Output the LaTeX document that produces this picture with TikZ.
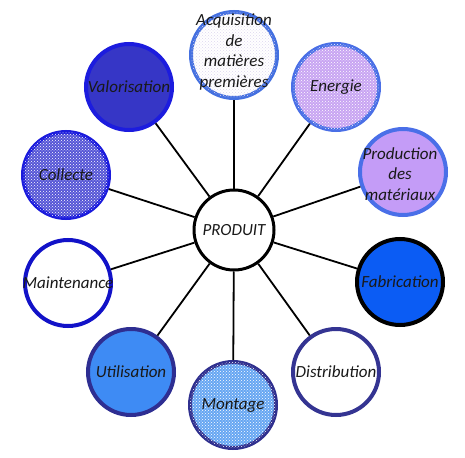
\documentclass[tikz,border=0pt]{standalone}
\usepackage{fontspec}
\setmainfont{Carlito}
\usetikzlibrary{patterns}
\definecolor{bAcq}{HTML}{4470E0}
\definecolor{fEne}{HTML}{C8A4F2}
\definecolor{bEne}{HTML}{4A6FE6}
\definecolor{fPro}{HTML}{C49CF7}
\definecolor{bPro}{HTML}{4A6FE8}
\definecolor{fFab}{HTML}{0B5CF4}
\definecolor{bDis}{HTML}{343492}
\definecolor{fMon}{HTML}{66A6F2}
\definecolor{bMon}{HTML}{30308F}
\definecolor{fUti}{HTML}{3E8BF4}
\definecolor{bUti}{HTML}{2E2E92}
\definecolor{bMai}{HTML}{1212C8}
\definecolor{fCol}{HTML}{5555D6}
\definecolor{bCol}{HTML}{1B1BDC}
\definecolor{fVal}{HTML}{3636C6}
\definecolor{bVal}{HTML}{1C1CDE}
\definecolor{dotAcq}{HTML}{DDD6EE}
\begin{document}
\begin{tikzpicture}[x=1pt,y=-1pt,
  circ/.style={circle, draw, line width=4pt, minimum size=86pt, inner sep=0pt},
  hub/.style={circle, draw=black, line width=3pt, fill=white, minimum size=80pt, inner sep=0pt},
  txt/.style={align=center, font=\itshape\fontsize{17}{20.5}\selectfont, text=black!90, inner sep=0pt},
  spoke/.style={line width=1.8pt, black},
  patt/.style={postaction={pattern=crosshatch dots, pattern color=white}}]
\useasboundingbox (0,0) rectangle (465,457);
\node[hub] (p) at (234,230) {};
\node[circ, draw=bAcq, fill=white, postaction={pattern=crosshatch dots, pattern color=dotAcq}] (acq) at (234,55) {};
\node[circ, draw=bEne, fill=fEne, patt] (ene) at (336,87) {};
\node[circ, draw=bPro, fill=fPro] (pro) at (403,172) {};
\node[circ, draw=black, fill=fFab] (fab) at (400,282) {};
\node[circ, draw=bDis, fill=white] (dis) at (336,372) {};
\node[circ, draw=bMon, fill=fMon, patt] (mon) at (233,405) {};
\node[circ, draw=bUti, fill=fUti] (uti) at (131,372) {};
\node[circ, draw=bMai, fill=white] (mai) at (68,283) {};
\node[circ, draw=bCol, fill=fCol, patt] (col) at (66,175) {};
\node[circ, draw=bVal, fill=fVal] (val) at (129,87) {};
\foreach \n in {acq,ene,pro,fab,dis,mon,uti,mai,col,val}
  \draw[spoke] (p) -- (\n);
\node[txt] (tp) at (p) {PRODUIT};
\node[txt] (tacq) at (234,52) {Acquisition\\de\\matières\\premières};
\node[txt] (tene) at (ene) {Energie};
\node[txt] (tpro) at (400,174) {Production\\des\\matériaux};
\node[txt] (tfab) at (fab) {Fabrication};
\node[txt] (tdis) at (dis) {Distribution};
\node[txt] (tmon) at (mon) {Montage};
\node[txt] (tuti) at (uti) {Utilisation};
\node[txt] (tmai) at (mai) {Maintenance};
\node[txt] (tcol) at (col) {Collecte};
\node[txt] (tval) at (val) {Valorisation};
\end{tikzpicture}
\end{document}
